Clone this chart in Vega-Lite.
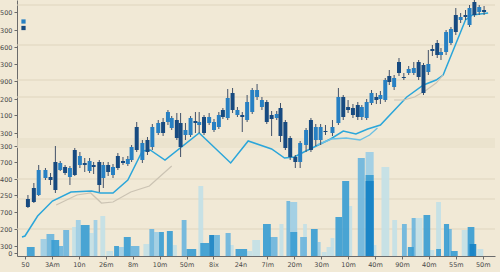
{
  "$schema": "https://vega.github.io/schema/vega-lite/v6.json",
  "width": 478,
  "height": 256,
  "autosize": {"type": "none"},
  "padding": {"left": 17, "top": 0, "right": 5, "bottom": 16},
  "background": "#f1e9d6",
  "config": {
    "view": {"stroke": null},
    "font": "DejaVu Sans",
    "axis": {"labelFont": "DejaVu Sans", "labelColor": "#4a4a4a", "labelFontSize": 6.5, "domainColor": "#6b6b6b", "tickColor": "#6b6b6b", "tickSize": 3, "grid": false, "title": null, "labelOverlap": false, "labelFlush": false, "labelBound": false, "tickCount": 60}
  },
  "datasets": {
    "band": [{"lo": 108, "hi": 118}],
    "grid": [{"g": 251}, {"g": 211}, {"g": 176}, {"g": 159}, {"g": 77}, {"g": 57}, {"g": 27}],
    "vol": [
      {"t1": 64.4, "t2": 66.2, "v": 70, "s": "e"},
      {"t1": 126.5, "t2": 129.5, "v": 104, "s": "d"},
      {"t1": 132.4, "t2": 135.3, "v": 89, "s": "e"},
      {"t1": 152.7, "t2": 154.5, "v": 54, "s": "e"},
      {"t1": 120.4, "t2": 121.5, "v": 50, "s": "e"},
      {"t1": 98.5, "t2": 101.1, "v": 54, "s": "d"},
      {"t1": 94.5, "t2": 96.0, "v": 32, "s": "e"},
      {"t1": 103.3, "t2": 104.7, "v": 32, "s": "e"},
      {"t1": 28.0, "t2": 29.8, "v": 40, "s": "e"},
      {"t1": 17.5, "t2": 19.3, "v": 29, "s": "e"},
      {"t1": 24.0, "t2": 25.5, "v": 23, "s": "e"},
      {"t1": 30.2, "t2": 32.7, "v": 5, "s": "e"},
      {"t1": 44.0, "t2": 46.2, "v": 12, "s": "e"},
      {"t1": 54.9, "t2": 56.4, "v": 11, "s": "e"},
      {"t1": 75.6, "t2": 77.5, "v": 11, "s": "e"},
      {"t1": 82.5, "t2": 84.4, "v": 5, "s": "e"},
      {"t1": 84.4, "t2": 87.3, "v": 16, "s": "e"},
      {"t1": 110.2, "t2": 112.0, "v": 4, "s": "e"},
      {"t1": 112.0, "t2": 114.5, "v": 9, "s": "e"},
      {"t1": 113.5, "t2": 114.9, "v": 18, "s": "e"},
      {"t1": 129.5, "t2": 130.5, "v": 11, "s": "e"},
      {"t1": 136.4, "t2": 138.2, "v": 36, "s": "e"},
      {"t1": 145.1, "t2": 147.6, "v": 38, "s": "e"},
      {"t1": 150.5, "t2": 152.0, "v": 6, "s": "e"},
      {"t1": 162.2, "t2": 164.7, "v": 26, "s": "e"},
      {"t1": 168.0, "t2": 170.2, "v": 7, "s": "e"},
      {"t1": 5.8, "t2": 8.0, "v": 17, "s": "d"},
      {"t1": 18.9, "t2": 20.7, "v": 36, "s": "d"},
      {"t1": 25.5, "t2": 26.9, "v": 36, "s": "d"},
      {"t1": 34.5, "t2": 36.7, "v": 9, "s": "d"},
      {"t1": 48.0, "t2": 49.8, "v": 24, "s": "d"},
      {"t1": 108.7, "t2": 109.8, "v": 14, "s": "d"},
      {"t1": 97.1, "t2": 98.5, "v": 55, "s": "c"},
      {"t1": 123.6, "t2": 126.2, "v": 98, "s": "c"},
      {"t1": 8.0, "t2": 10.9, "v": 22, "s": "c"},
      {"t1": 12.4, "t2": 14.2, "v": 10, "s": "c"},
      {"t1": 14.2, "t2": 16.4, "v": 26, "s": "c"},
      {"t1": 39.3, "t2": 42.5, "v": 10, "s": "c"},
      {"t1": 46.2, "t2": 48.0, "v": 27, "s": "c"},
      {"t1": 58.2, "t2": 60.0, "v": 36, "s": "c"},
      {"t1": 70.2, "t2": 72.4, "v": 21, "s": "c"},
      {"t1": 74.5, "t2": 76.4, "v": 23, "s": "c"},
      {"t1": 90.9, "t2": 93.8, "v": 19, "s": "c"},
      {"t1": 102.2, "t2": 104.7, "v": 19, "s": "c"},
      {"t1": 140.0, "t2": 141.8, "v": 32, "s": "c"},
      {"t1": 143.6, "t2": 145.1, "v": 38, "s": "c"},
      {"t1": 157.1, "t2": 158.5, "v": 27, "s": "c"},
      {"t1": 0.7, "t2": 3.6, "v": 9, "s": "b"},
      {"t1": 9.8, "t2": 12.7, "v": 16, "s": "b"},
      {"t1": 20.7, "t2": 24.0, "v": 31, "s": "b"},
      {"t1": 33.1, "t2": 34.9, "v": 10, "s": "b"},
      {"t1": 36.7, "t2": 39.3, "v": 19, "s": "b"},
      {"t1": 49.8, "t2": 51.6, "v": 24, "s": "b"},
      {"t1": 52.7, "t2": 54.9, "v": 25, "s": "b"},
      {"t1": 60.0, "t2": 63.6, "v": 7, "s": "b"},
      {"t1": 65.1, "t2": 68.4, "v": 13, "s": "b"},
      {"t1": 78.2, "t2": 82.5, "v": 7, "s": "b"},
      {"t1": 88.4, "t2": 91.3, "v": 32, "s": "b"},
      {"t1": 98.5, "t2": 101.1, "v": 24, "s": "b"},
      {"t1": 106.2, "t2": 108.7, "v": 27, "s": "b"},
      {"t1": 115.3, "t2": 117.8, "v": 39, "s": "b"},
      {"t1": 117.8, "t2": 120.4, "v": 75, "s": "b"},
      {"t1": 126.5, "t2": 129.5, "v": 81, "s": "b"},
      {"t1": 142.2, "t2": 144.4, "v": 9, "s": "b"},
      {"t1": 148.0, "t2": 150.5, "v": 41, "s": "b"},
      {"t1": 152.7, "t2": 154.5, "v": 7, "s": "b"},
      {"t1": 155.6, "t2": 157.5, "v": 32, "s": "b"},
      {"t1": 158.2, "t2": 160.7, "v": 5, "s": "b"},
      {"t1": 164.4, "t2": 166.9, "v": 29, "s": "b"},
      {"t1": 68.4, "t2": 70.2, "v": 21, "s": "a"},
      {"t1": 126.5, "t2": 129.5, "v": 75, "s": "a"},
      {"t1": 165.1, "t2": 167.6, "v": 12, "s": "a"}
    ],
    "lines": [
      {"series": "ma", "t": -1.1, "y": 19},
      {"series": "ma", "t": 0.0, "y": 20},
      {"series": "ma", "t": 4.7, "y": 40},
      {"series": "ma", "t": 10.2, "y": 55},
      {"series": "ma", "t": 17.1, "y": 64},
      {"series": "ma", "t": 24.7, "y": 65},
      {"series": "ma", "t": 28.0, "y": 63},
      {"series": "ma", "t": 32.7, "y": 63},
      {"series": "ma", "t": 38.2, "y": 76},
      {"series": "ma", "t": 43.6, "y": 105},
      {"series": "ma", "t": 46.5, "y": 106},
      {"series": "ma", "t": 52.0, "y": 96},
      {"series": "ma", "t": 64.7, "y": 123},
      {"series": "ma", "t": 76.4, "y": 93},
      {"series": "ma", "t": 82.9, "y": 115},
      {"series": "ma", "t": 91.6, "y": 107},
      {"series": "ma", "t": 96.4, "y": 98},
      {"series": "ma", "t": 100.0, "y": 99},
      {"series": "ma", "t": 103.6, "y": 104},
      {"series": "ma", "t": 113.5, "y": 117},
      {"series": "ma", "t": 118.2, "y": 125},
      {"series": "ma", "t": 122.9, "y": 122},
      {"series": "ma", "t": 127.3, "y": 127},
      {"series": "ma", "t": 132.0, "y": 131},
      {"series": "ma", "t": 141.8, "y": 159},
      {"series": "ma", "t": 148.0, "y": 171},
      {"series": "ma", "t": 152.7, "y": 176},
      {"series": "ma", "t": 155.3, "y": 181},
      {"series": "ma", "t": 163.6, "y": 236},
      {"series": "ma", "t": 166.2, "y": 241},
      {"series": "ma", "t": 172.0, "y": 243},
      {"series": "ma2", "t": 108.4, "y": 111},
      {"series": "ma2", "t": 113.8, "y": 117},
      {"series": "ma2", "t": 119.3, "y": 118},
      {"series": "ma2", "t": 124.4, "y": 116},
      {"series": "ma2", "t": 128.0, "y": 121},
      {"series": "ma2", "t": 130.9, "y": 128},
      {"series": "ga", "t": 11.6, "y": 51},
      {"series": "ga", "t": 19.3, "y": 61},
      {"series": "ga", "t": 24.4, "y": 63},
      {"series": "ga", "t": 28.4, "y": 53},
      {"series": "ga", "t": 32.7, "y": 54},
      {"series": "ga", "t": 39.3, "y": 64},
      {"series": "ga", "t": 46.2, "y": 70},
      {"series": "ga", "t": 54.5, "y": 90},
      {"series": "gb", "t": 137.1, "y": 156},
      {"series": "gb", "t": 140.7, "y": 156},
      {"series": "gb", "t": 144.7, "y": 159},
      {"series": "gb", "t": 149.1, "y": 166},
      {"series": "gb", "t": 152.7, "y": 173},
      {"series": "gb", "t": 155.3, "y": 181}
    ],
    "candles": [
      {"t": 1.1, "open": 57, "close": 49, "high": 61, "low": 48, "dir": "down"},
      {"t": 3.3, "open": 68, "close": 54, "high": 73, "low": 53, "dir": "down"},
      {"t": 5.1, "open": 61, "close": 86, "high": 91, "low": 60, "dir": "up"},
      {"t": 7.6, "open": 78, "close": 86, "high": 88, "low": 76, "dir": "up"},
      {"t": 9.5, "open": 79, "close": 76, "high": 83, "low": 71, "dir": "down"},
      {"t": 11.3, "open": 94, "close": 66, "high": 110, "low": 63, "dir": "down"},
      {"t": 13.1, "open": 86, "close": 93, "high": 95, "low": 85, "dir": "up"},
      {"t": 14.9, "open": 89, "close": 83, "high": 91, "low": 81, "dir": "down"},
      {"t": 16.7, "open": 79, "close": 88, "high": 90, "low": 71, "dir": "up"},
      {"t": 18.5, "open": 106, "close": 81, "high": 108, "low": 80, "dir": "down"},
      {"t": 20.4, "open": 91, "close": 100, "high": 104, "low": 88, "dir": "up"},
      {"t": 22.2, "open": 93, "close": 91, "high": 98, "low": 84, "dir": "down"},
      {"t": 24.0, "open": 85, "close": 95, "high": 98, "low": 83, "dir": "up"},
      {"t": 25.5, "open": 91, "close": 89, "high": 94, "low": 82, "dir": "down"},
      {"t": 27.6, "open": 94, "close": 71, "high": 96, "low": 64, "dir": "down"},
      {"t": 29.1, "open": 78, "close": 91, "high": 94, "low": 68, "dir": "up"},
      {"t": 30.9, "open": 91, "close": 84, "high": 94, "low": 80, "dir": "down"},
      {"t": 32.7, "open": 81, "close": 89, "high": 92, "low": 78, "dir": "up"},
      {"t": 34.5, "open": 100, "close": 88, "high": 103, "low": 86, "dir": "down"},
      {"t": 36.4, "open": 95, "close": 93, "high": 99, "low": 91, "dir": "down"},
      {"t": 38.2, "open": 92, "close": 97, "high": 100, "low": 90, "dir": "up"},
      {"t": 39.6, "open": 96, "close": 109, "high": 111, "low": 94, "dir": "up"},
      {"t": 41.5, "open": 129, "close": 106, "high": 134, "low": 104, "dir": "down"},
      {"t": 43.6, "open": 96, "close": 113, "high": 116, "low": 93, "dir": "up"},
      {"t": 45.5, "open": 116, "close": 104, "high": 119, "low": 101, "dir": "down"},
      {"t": 47.3, "open": 109, "close": 129, "high": 132, "low": 106, "dir": "up"},
      {"t": 49.5, "open": 123, "close": 133, "high": 136, "low": 121, "dir": "up"},
      {"t": 51.3, "open": 134, "close": 123, "high": 138, "low": 120, "dir": "down"},
      {"t": 53.1, "open": 134, "close": 144, "high": 146, "low": 131, "dir": "up"},
      {"t": 54.5, "open": 128, "close": 138, "high": 140, "low": 126, "dir": "up"},
      {"t": 56.4, "open": 136, "close": 118, "high": 143, "low": 116, "dir": "down"},
      {"t": 57.8, "open": 133, "close": 109, "high": 143, "low": 99, "dir": "down"},
      {"t": 59.6, "open": 121, "close": 126, "high": 133, "low": 116, "dir": "up"},
      {"t": 61.5, "open": 121, "close": 138, "high": 140, "low": 119, "dir": "up"},
      {"t": 63.3, "open": 135, "close": 133, "high": 144, "low": 123, "dir": "down"},
      {"t": 64.7, "open": 131, "close": 134, "high": 144, "low": 123, "dir": "up"},
      {"t": 66.5, "open": 139, "close": 123, "high": 141, "low": 121, "dir": "down"},
      {"t": 68.4, "open": 133, "close": 139, "high": 143, "low": 131, "dir": "up"},
      {"t": 70.2, "open": 126, "close": 134, "high": 137, "low": 124, "dir": "up"},
      {"t": 72.0, "open": 129, "close": 141, "high": 144, "low": 127, "dir": "up"},
      {"t": 73.5, "open": 146, "close": 139, "high": 148, "low": 137, "dir": "down"},
      {"t": 75.3, "open": 138, "close": 158, "high": 167, "low": 136, "dir": "up"},
      {"t": 77.1, "open": 163, "close": 146, "high": 168, "low": 143, "dir": "down"},
      {"t": 78.9, "open": 141, "close": 146, "high": 149, "low": 139, "dir": "up"},
      {"t": 80.7, "open": 141, "close": 139, "high": 144, "low": 124, "dir": "down"},
      {"t": 82.5, "open": 136, "close": 154, "high": 161, "low": 134, "dir": "up"},
      {"t": 84.4, "open": 144, "close": 166, "high": 168, "low": 142, "dir": "up"},
      {"t": 86.2, "open": 159, "close": 166, "high": 172, "low": 156, "dir": "up"},
      {"t": 88.0, "open": 149, "close": 156, "high": 159, "low": 146, "dir": "up"},
      {"t": 89.8, "open": 154, "close": 134, "high": 156, "low": 132, "dir": "down"},
      {"t": 91.6, "open": 141, "close": 137, "high": 145, "low": 120, "dir": "down"},
      {"t": 93.5, "open": 138, "close": 142, "high": 145, "low": 136, "dir": "up"},
      {"t": 94.9, "open": 148, "close": 120, "high": 153, "low": 114, "dir": "down"},
      {"t": 96.7, "open": 134, "close": 108, "high": 136, "low": 106, "dir": "down"},
      {"t": 98.5, "open": 118, "close": 99, "high": 120, "low": 96, "dir": "down"},
      {"t": 100.4, "open": 99, "close": 94, "high": 101, "low": 88, "dir": "down"},
      {"t": 102.2, "open": 94, "close": 113, "high": 115, "low": 88, "dir": "up"},
      {"t": 104.4, "open": 111, "close": 126, "high": 128, "low": 104, "dir": "up"},
      {"t": 106.2, "open": 136, "close": 106, "high": 138, "low": 104, "dir": "down"},
      {"t": 108.0, "open": 116, "close": 129, "high": 132, "low": 110, "dir": "up"},
      {"t": 109.8, "open": 116, "close": 129, "high": 132, "low": 111, "dir": "up"},
      {"t": 111.6, "open": 125, "close": 124, "high": 131, "low": 121, "dir": "down"},
      {"t": 114.2, "open": 123, "close": 129, "high": 136, "low": 120, "dir": "up"},
      {"t": 116.4, "open": 133, "close": 159, "high": 168, "low": 131, "dir": "up"},
      {"t": 118.2, "open": 159, "close": 139, "high": 161, "low": 136, "dir": "down"},
      {"t": 120.0, "open": 149, "close": 146, "high": 156, "low": 143, "dir": "down"},
      {"t": 121.8, "open": 148, "close": 141, "high": 152, "low": 138, "dir": "down"},
      {"t": 123.6, "open": 151, "close": 139, "high": 154, "low": 136, "dir": "down"},
      {"t": 125.1, "open": 139, "close": 149, "high": 151, "low": 136, "dir": "up"},
      {"t": 126.9, "open": 138, "close": 154, "high": 157, "low": 136, "dir": "up"},
      {"t": 128.7, "open": 153, "close": 163, "high": 166, "low": 151, "dir": "up"},
      {"t": 130.5, "open": 159, "close": 156, "high": 163, "low": 152, "dir": "down"},
      {"t": 132.0, "open": 157, "close": 161, "high": 165, "low": 152, "dir": "up"},
      {"t": 133.8, "open": 156, "close": 176, "high": 178, "low": 154, "dir": "up"},
      {"t": 135.3, "open": 180, "close": 174, "high": 186, "low": 171, "dir": "down"},
      {"t": 137.1, "open": 169, "close": 178, "high": 181, "low": 166, "dir": "up"},
      {"t": 138.9, "open": 194, "close": 183, "high": 198, "low": 180, "dir": "down"},
      {"t": 140.7, "open": 179, "close": 178, "high": 183, "low": 176, "dir": "down"},
      {"t": 142.5, "open": 183, "close": 187, "high": 190, "low": 181, "dir": "up"},
      {"t": 144.4, "open": 183, "close": 188, "high": 194, "low": 181, "dir": "up"},
      {"t": 146.2, "open": 194, "close": 179, "high": 196, "low": 176, "dir": "down"},
      {"t": 148.0, "open": 191, "close": 163, "high": 193, "low": 161, "dir": "down"},
      {"t": 149.8, "open": 184, "close": 192, "high": 206, "low": 181, "dir": "up"},
      {"t": 151.3, "open": 207, "close": 205, "high": 211, "low": 200, "dir": "down"},
      {"t": 153.1, "open": 213, "close": 201, "high": 216, "low": 198, "dir": "down"},
      {"t": 154.5, "open": 201, "close": 204, "high": 208, "low": 196, "dir": "up"},
      {"t": 156.4, "open": 204, "close": 224, "high": 226, "low": 201, "dir": "up"},
      {"t": 158.2, "open": 213, "close": 227, "high": 229, "low": 211, "dir": "up"},
      {"t": 160.0, "open": 241, "close": 224, "high": 248, "low": 221, "dir": "down"},
      {"t": 161.8, "open": 236, "close": 239, "high": 243, "low": 233, "dir": "up"},
      {"t": 163.6, "open": 241, "close": 239, "high": 246, "low": 236, "dir": "down"},
      {"t": 165.1, "open": 231, "close": 248, "high": 251, "low": 229, "dir": "up"},
      {"t": 166.9, "open": 254, "close": 241, "high": 256, "low": 239, "dir": "down"},
      {"t": 168.7, "open": 244, "close": 249, "high": 251, "low": 241, "dir": "up"},
      {"t": 170.5, "open": 246, "close": 244, "high": 250, "low": 241, "dir": "down"}
    ]
  },
  "layer": [
    {
      "data": {"name": "band"},
      "mark": {"type": "rect", "color": "#e8dfca", "opacity": 0.7},
      "encoding": {
        "y": {"field": "lo", "type": "quantitative", "scale": {"domain": [0, 256], "nice": false, "zero": false},
          "axis": {
            "values": [244, 226, 209, 192, 175, 157, 141, 123, 110, 94, 77, 61, 44, 27, 10, 3],
            "tickCount": 60,
            "labelExpr": "['500','300','600','300','900','200','100','300','300','700','400','250','700','200','300','0'][indexof([244,226,209,192,175,157,141,123,110,94,77,61,44,27,10,3], datum.value)]",
            "labelPadding": 2
          }},
        "y2": {"field": "hi"}
      }
    },
    {
      "data": {"name": "grid"},
      "mark": {"type": "rule", "color": "#e0d5bd", "strokeWidth": 1.2},
      "encoding": {"y": {"field": "g", "type": "quantitative"}}
    },
    {
      "data": {"name": "vol"},
      "mark": {"type": "rect", "opacity": 0.92},
      "encoding": {
        "x": {"field": "t1", "type": "quantitative", "scale": {"domain": [-1.1, 172.7], "nice": false, "zero": false},
          "axis": {
            "values": [0, 10, 20, 30, 40, 50, 60, 70, 80, 90, 100, 110, 120, 130, 140, 150, 160, 170],
            "tickCount": 60,
            "labelExpr": "['50','3Am','10n','26m','8m','10m','50m','8ix','24n','7Im','20m','30m','10m','40m','90m','40m','55m','50m'][round(datum.value/10)]",
            "labelPadding": 2
          }},
        "x2": {"field": "t2"},
        "y": {"field": "v", "type": "quantitative"},
        "y2": {"datum": 0},
        "color": {"field": "s", "type": "nominal", "legend": null,
          "scale": {"domain": ["a", "b", "c", "d", "e"], "range": ["#1782c6", "#3b9dd3", "#6cb5dd", "#9dcde5", "#c3dfe6"]}}
      }
    },
    {
      "data": {"name": "lines"},
      "mark": {"type": "line", "interpolate": "linear"},
      "encoding": {
        "x": {"field": "t", "type": "quantitative"},
        "y": {"field": "y", "type": "quantitative"},
        "detail": {"field": "series"},
        "color": {"field": "series", "type": "nominal", "legend": null,
          "scale": {"domain": ["ma", "ma2", "ga", "gb"], "range": ["#2ba6da", "#6cc0e4", "#cbc3b3", "#cbc3b3"]}},
        "strokeWidth": {"field": "series", "type": "nominal", "legend": null,
          "scale": {"domain": ["ma", "ma2", "ga", "gb"], "range": [1.5, 1.1, 1.3, 1.3]}}
      }
    },
    {
      "data": {"name": "candles"},
      "mark": {"type": "rule", "color": "#415068", "strokeWidth": 1},
      "encoding": {
        "x": {"field": "t", "type": "quantitative"},
        "y": {"field": "low", "type": "quantitative"},
        "y2": {"field": "high"}
      }
    },
    {
      "data": {"name": "candles"},
      "mark": {"type": "bar", "size": 4},
      "encoding": {
        "x": {"field": "t", "type": "quantitative"},
        "y": {"field": "open", "type": "quantitative"},
        "y2": {"field": "close"},
        "color": {"field": "dir", "type": "nominal",
          "scale": {"domain": ["up", "down"], "range": ["#2780c3", "#174a80"]},
          "legend": {"orient": "none", "legendX": 4, "legendY": 19, "title": null, "symbolType": "square", "symbolSize": 18, "labelExpr": "''", "labelFontSize": 4, "rowPadding": 1.5, "padding": 0, "symbolStrokeWidth": 0}}
      }
    }
  ],
  "resolve": {"scale": {"color": "independent"}}
}
